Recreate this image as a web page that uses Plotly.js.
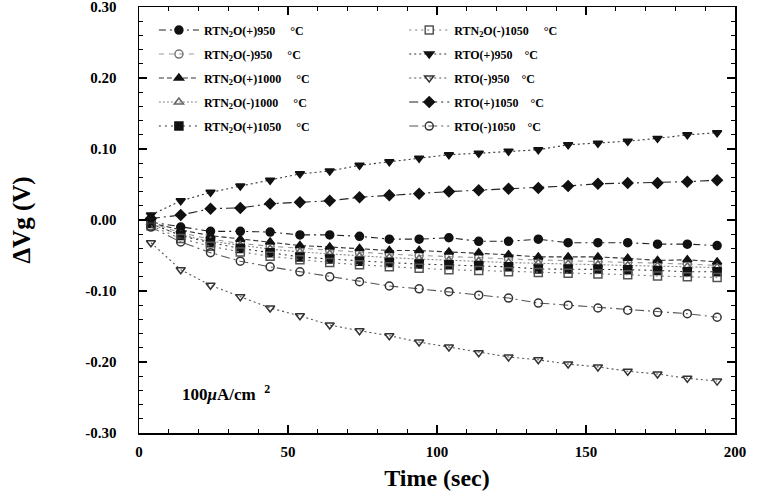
<!DOCTYPE html>
<html>
<head>
<meta charset="utf-8">
<script src="https://cdn.plot.ly/plotly-3.0.1.min.js"></script>
<style>
html,body{margin:0;padding:0;background:#fff;}
#chart{width:764px;height:496px;}
</style>
</head>
<body>
<div id="chart"></div>
<script>
// ---- data ----
var timeSec = [4, 14, 24, 34, 44, 54, 64, 74, 84, 94, 104, 114, 124, 134, 144, 154, 164, 174, 184, 194];

var rtn2oPlus950  = [-0.003, -0.010, -0.016, -0.016, -0.017, -0.021, -0.021, -0.023, -0.027, -0.027, -0.025, -0.030, -0.030, -0.027, -0.032, -0.032, -0.032, -0.034, -0.034, -0.036];
var rtn2oMinus950 = [-0.004, -0.018, -0.027, -0.033, -0.037, -0.040, -0.043, -0.046, -0.048, -0.050, -0.051, -0.053, -0.055, -0.056, -0.058, -0.059, -0.060, -0.061, -0.062, -0.064];
var rtn2oPlus1000 = [-0.004, -0.014, -0.022, -0.027, -0.031, -0.036, -0.038, -0.040, -0.043, -0.043, -0.045, -0.046, -0.049, -0.052, -0.052, -0.052, -0.054, -0.057, -0.056, -0.059];
var rtn2oMinus1000= [-0.006, -0.021, -0.030, -0.036, -0.041, -0.045, -0.048, -0.051, -0.053, -0.055, -0.057, -0.058, -0.060, -0.061, -0.062, -0.063, -0.064, -0.065, -0.066, -0.067];
var rtn2oPlus1050 = [-0.005, -0.022, -0.032, -0.040, -0.046, -0.052, -0.055, -0.058, -0.060, -0.062, -0.063, -0.064, -0.066, -0.069, -0.069, -0.069, -0.070, -0.071, -0.073, -0.073];
var rtn2oMinus1050= [-0.008, -0.026, -0.037, -0.045, -0.051, -0.056, -0.060, -0.063, -0.066, -0.068, -0.070, -0.071, -0.073, -0.074, -0.075, -0.076, -0.077, -0.079, -0.080, -0.081];
var rtoPlus950    = [0.007, 0.027, 0.039, 0.048, 0.056, 0.065, 0.069, 0.077, 0.082, 0.087, 0.092, 0.094, 0.097, 0.099, 0.106, 0.108, 0.111, 0.115, 0.120, 0.123];
var rtoMinus950   = [-0.032, -0.070, -0.092, -0.108, -0.124, -0.135, -0.148, -0.156, -0.163, -0.172, -0.179, -0.187, -0.193, -0.197, -0.203, -0.207, -0.213, -0.217, -0.223, -0.227];
var rtoPlus1050   = [0.002, 0.007, 0.016, 0.017, 0.023, 0.025, 0.027, 0.032, 0.035, 0.037, 0.040, 0.042, 0.044, 0.045, 0.048, 0.051, 0.052, 0.052, 0.054, 0.056];
var rtoMinus1050  = [-0.010, -0.031, -0.046, -0.058, -0.066, -0.073, -0.080, -0.087, -0.093, -0.097, -0.101, -0.106, -0.110, -0.117, -0.120, -0.124, -0.127, -0.130, -0.132, -0.137];

var seriesNames = [
  "RTN<sub>2</sub>O(+)950\u00a0\u00a0\u00a0\u00a0 °C",
  "RTN<sub>2</sub>O(-)950\u00a0\u00a0\u00a0\u00a0 °C",
  "RTN<sub>2</sub>O(+)1000\u00a0\u00a0\u00a0\u00a0 °C",
  "RTN<sub>2</sub>O(-)1000\u00a0\u00a0\u00a0\u00a0 °C",
  "RTN<sub>2</sub>O(+)1050\u00a0\u00a0\u00a0\u00a0 °C",
  "RTN<sub>2</sub>O(-)1050\u00a0\u00a0\u00a0\u00a0 °C",
  "RTO(+)950\u00a0\u00a0\u00a0 °C",
  "RTO(-)950\u00a0\u00a0\u00a0 °C",
  "RTO(+)1050\u00a0\u00a0\u00a0 °C",
  "RTO(-)1050\u00a0\u00a0\u00a0 °C"
];

var xTickVals = [0, 50, 100, 150, 200];
var xTickText = ["0", "50", "100", "150", "200"];
var yTickVals = [0.3, 0.2, 0.1, 0.0, -0.1, -0.2, -0.3];
var yTickText = ["0.30", "0.20", "0.10", "0.00", "-0.10", "-0.20", "-0.30"];

// ---- styles ----
var seriesData = [rtn2oPlus950, rtn2oMinus950, rtn2oPlus1000, rtn2oMinus1000, rtn2oPlus1050,
                  rtn2oMinus1050, rtoPlus950, rtoMinus950, rtoPlus1050, rtoMinus1050];
var styles = [
  {sym: "circle",             col: "#111", lc: "#222", dash: "7px,4px,2px,4px", leg: "legend"},
  {sym: "circle-open",        col: "#777", lc: "#999", dash: "5px,5px",         leg: "legend"},
  {sym: "triangle-up",        col: "#111", lc: "#333", dash: "5px,3px",         leg: "legend"},
  {sym: "triangle-up-open",   col: "#666", lc: "#888", dash: "2px,2px",         leg: "legend"},
  {sym: "square",             col: "#111", lc: "#333", dash: "2px,4px",         leg: "legend"},
  {sym: "square-open",        col: "#555", lc: "#777", dash: "2px,4px",         leg: "legend2"},
  {sym: "triangle-down",      col: "#111", lc: "#333", dash: "2px,3px",         leg: "legend2"},
  {sym: "triangle-down-open", col: "#333", lc: "#555", dash: "2px,3px",         leg: "legend2"},
  {sym: "diamond",            col: "#111", lc: "#222", dash: "9px,4px,2px,4px", leg: "legend2"},
  {sym: "circle-open",        col: "#333", lc: "#555", dash: "9px,4px,2px,4px", leg: "legend2"}
];

var traces = seriesData.map(function (ys, i) {
  var s = styles[i];
  return {
    x: timeSec, y: ys, name: seriesNames[i], type: "scatter", mode: "lines+markers",
    legend: s.leg, legendgroup: "g" + i,
    line: {color: s.lc, width: 1.1, dash: s.dash},
    marker: {symbol: s.sym, size: 8, color: s.col, line: {color: s.col, width: 1.5}}
  };
});

var serif = "Liberation Serif, Times New Roman, serif";
var axisCommon = {
  showgrid: false, zeroline: false, showline: true, linecolor: "#000", linewidth: 1.5,
  mirror: "allticks", ticks: "inside", ticklen: 8, tickwidth: 1.2, tickcolor: "#000",
  tickmode: "array", ticklabeloverflow: "allow",
  tickfont: {family: serif, size: 15, color: "#000", weight: "bold"}
};

var layout = {
  width: 764, height: 496,
  margin: {l: 139, r: 29, t: 7, b: 63},
  paper_bgcolor: "#fff", plot_bgcolor: "#fff",
  showlegend: true,
  xaxis: Object.assign({}, axisCommon, {
    range: [0, 200], tickvals: xTickVals, ticktext: xTickText,
    minor: {dtick: 10, tick0: 0, ticks: "inside", ticklen: 4, tickcolor: "#000", tickwidth: 1},
    ticklabelstandoff: 4,
    title: {text: "Time (sec)", font: {family: serif, size: 24, color: "#000", weight: "bold"}, standoff: 10}
  }),
  yaxis: Object.assign({}, axisCommon, {
    range: [-0.3001, 0.3001], tickvals: yTickVals, ticktext: yTickText,
    minor: {dtick: 0.02, tick0: 0, ticks: "inside", ticklen: 4, tickcolor: "#000", tickwidth: 1},
    ticklabelstandoff: 18,
    title: {text: "ΔVg (V)", font: {family: serif, size: 25, color: "#000", weight: "bold"}, standoff: 47}
  }),
  legend: {
    x: 0.025, y: 0.98, xanchor: "left", yanchor: "top",
    bgcolor: "rgba(0,0,0,0)", borderwidth: 0,
    font: {family: serif, size: 12, color: "#000", weight: "bold"},
    traceorder: "grouped", tracegroupgap: 5, itemwidth: 40
  },
  legend2: {
    x: 0.445, y: 0.98, xanchor: "left", yanchor: "top",
    bgcolor: "rgba(0,0,0,0)", borderwidth: 0,
    font: {family: serif, size: 12, color: "#000", weight: "bold"},
    traceorder: "grouped", tracegroupgap: 5, itemwidth: 40
  },
  annotations: [{
    xref: "paper", yref: "paper", x: 0.068, y: 0.095, xanchor: "left", yanchor: "middle",
    showarrow: false,
    text: "<b>100<i>μ</i>A/cm\u00a0\u00a0<sup>2</sup></b>",
    font: {family: serif, size: 17, color: "#000"}
  }]
};

Plotly.newPlot("chart", traces, layout, {displayModeBar: false, staticPlot: true});
</script>
</body>
</html>
